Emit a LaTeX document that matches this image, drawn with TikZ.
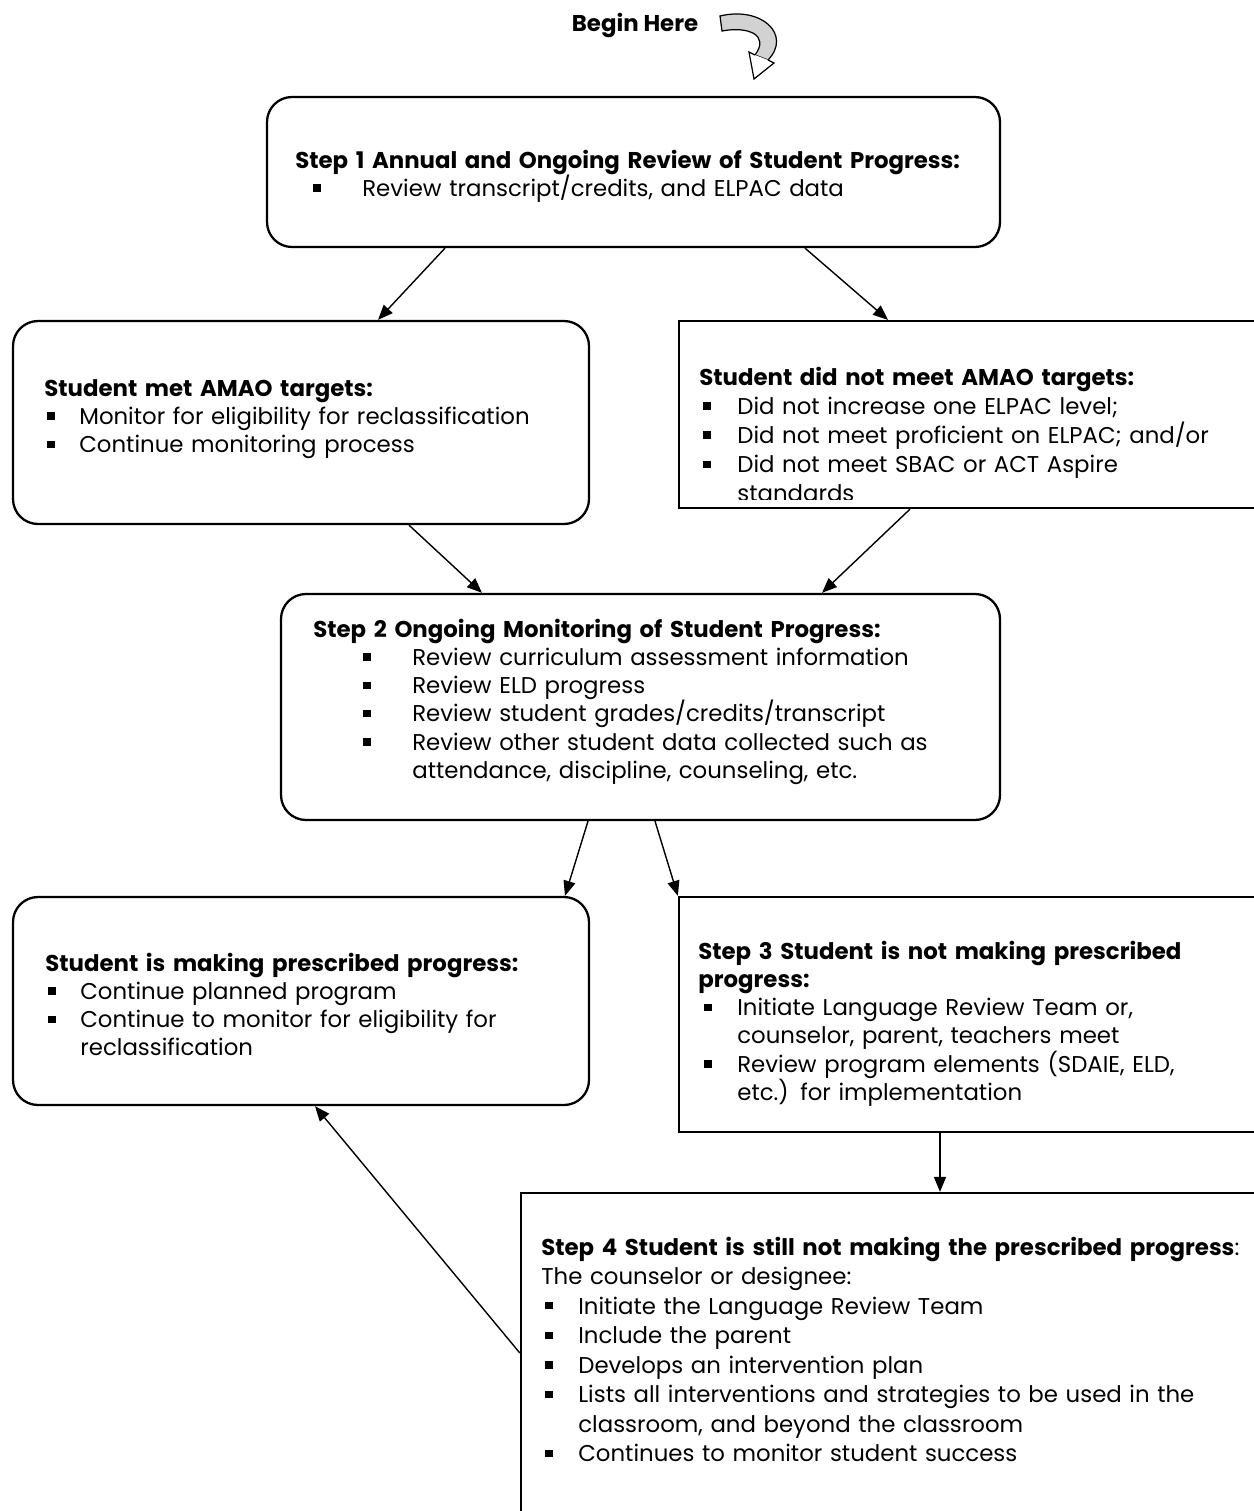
\documentclass[tikz,border=0pt]{standalone}
\usepackage{fontspec}
\setmainfont{Poppins}
\usetikzlibrary{arrows.meta, fit, positioning}

% small square bullet and hanging list line
\newcommand{\sqbul}{\rule[0.2em]{0.32em}{0.32em}}
\newcommand{\bul}[3]{\par\hangindent=#2\hangafter=1\noindent\makebox[#2][l]{\hspace*{#1}\sqbul}#3\par}

\begin{document}
\begin{tikzpicture}[x=0.02cm, y=-0.02cm,
  box/.style={draw, line width=1.3pt, inner sep=0pt},
  roundbox/.style={box, rounded corners=0.5cm},
  arr/.style={-{Triangle[length=0.3cm, width=0.24cm]}, line width=0.8pt},
  txt/.style={anchor=base west, inner sep=0pt, align=left, text width=14cm,
    font=\fontsize{13}{16.1}\selectfont}]
\useasboundingbox (0,0) rectangle (1254,1511);

% Start marker
\node (begin) [inner sep=0pt, font=\fontsize{13}{16.1}\selectfont\bfseries] at (635,25) {Begin Here};
\filldraw[fill=gray!35, line width=0.7pt] (720,16) .. controls (762,6) and (792,35) .. (768,60)
  -- (755,55) .. controls (770,35) and (748,26) .. (722,31) -- cycle;
\filldraw[fill=white, line width=0.7pt] (768,60) -- (774,63) -- (754,79) -- (749,52) -- (755,55);

% Boxes
\node (step1) [roundbox, fit={(267,97) (1000,247)}] {};
\node (met) [roundbox, fit={(13,321) (589,524)}] {};
\node (notmet) [box, fit={(679,321) (1275,508)}] {};
\node (step2) [roundbox, fit={(281,594) (1000,820)}] {};
\node (progress) [roundbox, fit={(13,897) (589,1105)}] {};
\node (step3) [box, fit={(679,897) (1275,1132)}] {};
\node (step4) [box, fit={(521,1193) (1275,1530)}] {};

% Box texts
\node (step1txt) [txt] at (295,168) {\textbf{Step 1 Annual and Ongoing Review of Student Progress:}
  \bul{0.36cm}{1.34cm}{Review transcript/credits, and ELPAC data}};
\node (mettxt) [txt] at (44,396) {\textbf{Student met AMAO targets:}
  \bul{0.06cm}{0.70cm}{Monitor for eligibility for reclassification}
  \bul{0.06cm}{0.70cm}{Continue monitoring process}};
\begin{scope}
  \clip (679,321) rectangle (1275,499);
  \node (notmettxt) [txt, font=\fontsize{13}{16.6}\selectfont] at (699,385) {\textbf{Student did not meet AMAO targets:}
    \bul{0.08cm}{0.76cm}{Did not increase one ELPAC level;}
    \bul{0.08cm}{0.76cm}{Did not meet proficient on ELPAC; and/or}
    \bul{0.08cm}{0.76cm}{Did not meet SBAC or ACT Aspire\newline standards}};
\end{scope}
\node (step2txt) [txt] at (313,637) {\textbf{Step 2 Ongoing Monitoring of Student Progress:}
  \bul{1.0cm}{1.98cm}{Review curriculum assessment information}
  \bul{1.0cm}{1.98cm}{Review ELD progress}
  \bul{1.0cm}{1.98cm}{Review student grades/credits/transcript}
  \bul{1.0cm}{1.98cm}{Review other student data collected such as\newline attendance, discipline, counseling, etc.}};
\node (progresstxt) [txt] at (45,971) {\textbf{Student is making prescribed progress:}
  \bul{0.06cm}{0.70cm}{Continue planned program}
  \bul{0.06cm}{0.70cm}{Continue to monitor for eligibility for\newline reclassification}};
\node (step3txt) [txt] at (698,959) {\textbf{Step 3 Student is not making prescribed\newline progress:}
  \bul{0.12cm}{0.78cm}{Initiate Language Review Team or,\newline counselor, parent, teachers meet}
  \bul{0.12cm}{0.78cm}{Review program elements (SDAIE, ELD,\newline etc.) for implementation}};
\node (step4txt) [txt, text width=15cm, font=\fontsize{13}{16.8}\selectfont] at (541,1255) {\textbf{Step 4 Student is still not making the prescribed progress}:\newline
  The counselor or designee:
  \bul{0.08cm}{0.74cm}{Initiate the Language Review Team}
  \bul{0.08cm}{0.74cm}{Include the parent}
  \bul{0.08cm}{0.74cm}{Develops an intervention plan}
  \bul{0.08cm}{0.74cm}{Lists all interventions and strategies to be used in the\newline classroom, and beyond the classroom}
  \bul{0.08cm}{0.74cm}{Continues to monitor student success}};

% Arrows
\draw[arr] (step1.south -| 445,0) -- (met.north -| 378,0);
\draw[arr] (step1.south -| 805,0) -- (notmet.north -| 888,0);
\draw[arr] (met.south -| 409,0) -- (step2.north -| 482,0);
\draw[arr] (notmet.south -| 910,0) -- (step2.north -| 822,0);
\draw[arr] (step2.south -| 588,0) -- (progress.north -| 565,0);
\draw[arr] (step2.south -| 655,0) -- (step3.north west);
\draw[arr] (step3.south -| 940,0) -- (step4.north -| 940,0);
\draw[arr] (step4.west |- 0,1353) -- (progress.south -| 315,0);
\end{tikzpicture}
\end{document}
